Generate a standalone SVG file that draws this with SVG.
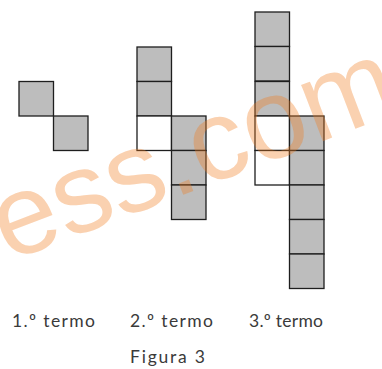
<svg xmlns="http://www.w3.org/2000/svg" width="382" height="369" viewBox="0 0 382 369">
<style>
.g{fill:#bdbdbd;stroke:#1e1e1e;stroke-width:1.3}
.w{fill:#ffffff;stroke:#1e1e1e;stroke-width:1.3}
.t{font-family:Lato,"Open Sans","Liberation Sans",sans-serif;font-size:17.5px;fill:#3a3a3a}
.wm{font-family:"Liberation Sans",Arial,sans-serif;font-size:114px;fill:#f07a1e;fill-opacity:0.35}
</style>
<g id="termo1">
<rect class="g" x="19" y="81.5" width="34.5" height="34.5"/>
<rect class="g" x="53.5" y="116" width="34.5" height="34.5"/>
</g>
<g id="termo2">
<rect class="g" x="137" y="47" width="34.5" height="34.5"/>
<rect class="g" x="137" y="81.5" width="34.5" height="34.5"/>
<rect class="w" x="137" y="116" width="34.5" height="34.5"/>
<rect class="g" x="171.5" y="116" width="34.5" height="34.5"/>
<rect class="g" x="171.5" y="150.5" width="34.5" height="34.5"/>
<rect class="g" x="171.5" y="185" width="34.5" height="34.5"/>
</g>
<g id="termo3">
<rect class="g" x="255" y="12" width="34.5" height="34.5"/>
<rect class="g" x="255" y="46.5" width="34.5" height="34.5"/>
<rect class="g" x="255" y="81.5" width="34.5" height="34.5"/>
<rect class="w" x="255" y="116" width="34.5" height="34.5"/>
<rect class="w" x="255" y="150.5" width="34.5" height="34.5"/>
<rect class="g" x="289.5" y="116" width="34.5" height="34.5"/>
<rect class="g" x="289.5" y="150.5" width="34.5" height="34.5"/>
<rect class="g" x="289.5" y="185" width="34.5" height="34.5"/>
<rect class="g" x="289.5" y="219.5" width="34.5" height="34.5"/>
<rect class="g" x="289.5" y="254" width="34.5" height="34.5"/>
</g>
<g id="labels">
<text class="t" x="12" y="327" textLength="83" lengthAdjust="spacing">1.º termo</text>
<text class="t" x="130" y="327" textLength="83" lengthAdjust="spacing">2.º termo</text>
<text class="t" x="249" y="327" textLength="74" lengthAdjust="spacing">3.º termo</text>
<text class="t" x="130" y="363" textLength="75" lengthAdjust="spacing">Figura 3</text>
</g>
<text class="wm" x="8" y="262" transform="rotate(-21 8 262)">ess.com</text>
</svg>
